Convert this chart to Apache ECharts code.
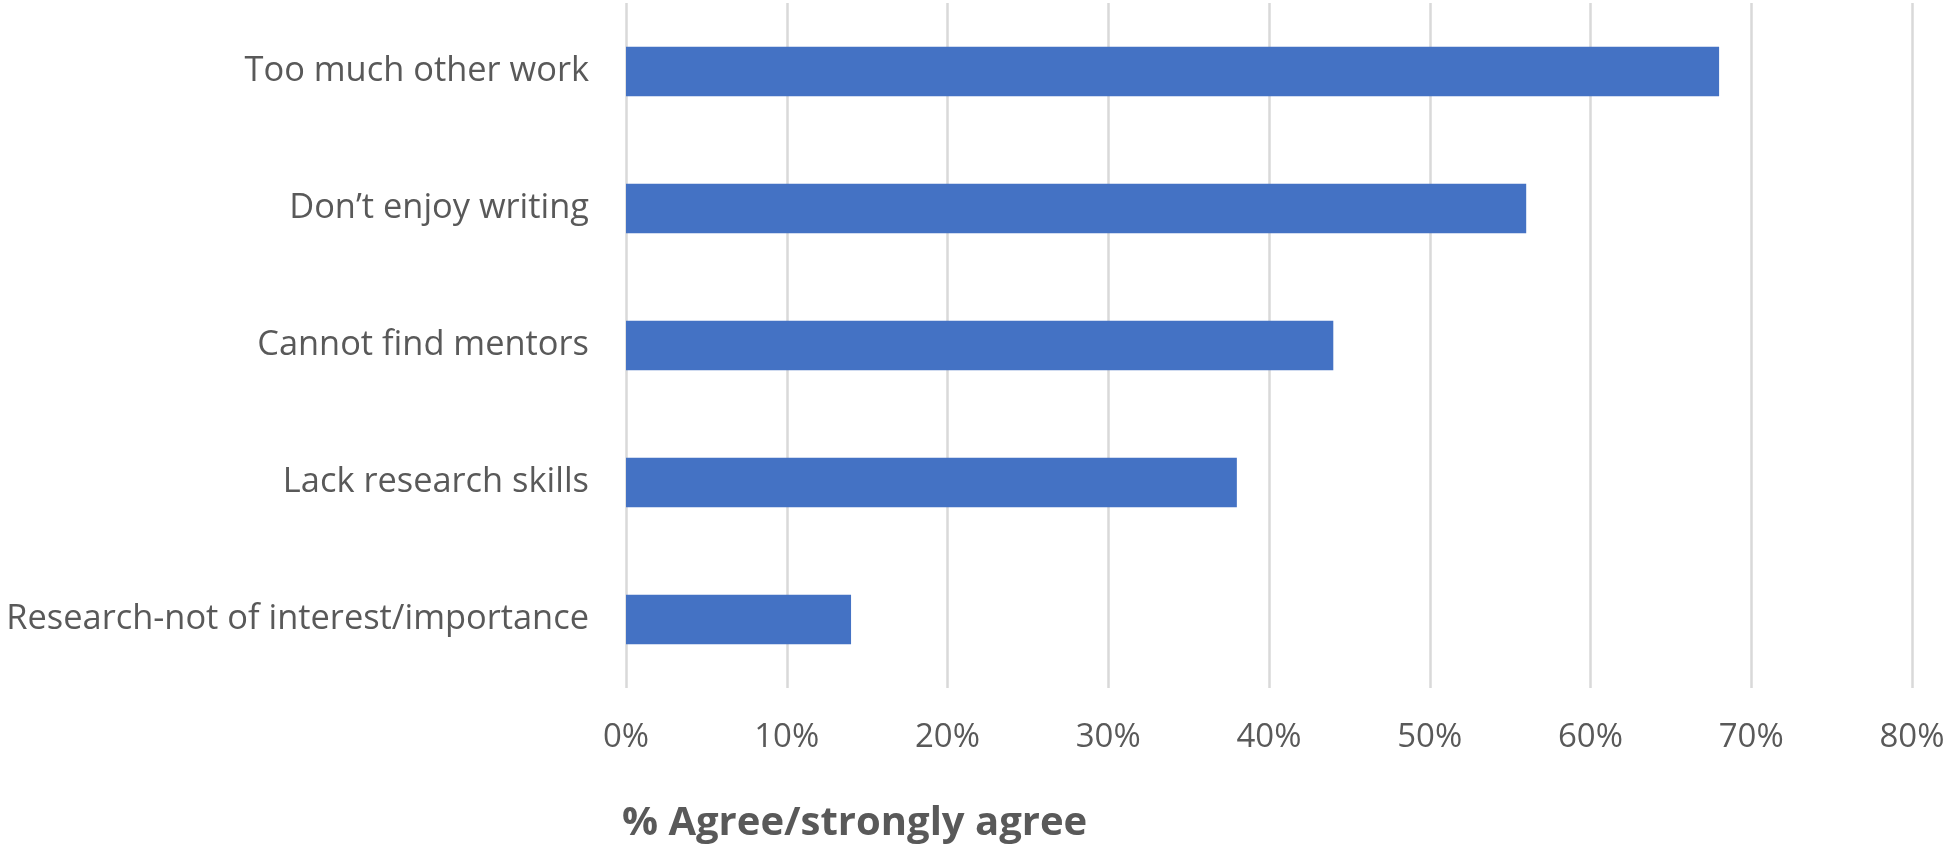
<!DOCTYPE html>
<html>
<head>
<meta charset="utf-8">
<style>
  html, body { margin: 0; padding: 0; background: #fff; }
  #chart { width: 1952px; height: 844px; }
</style>
<script src="https://cdn.jsdelivr.net/npm/echarts@6/dist/echarts.min.js"></script>
</head>
<body>
<div id="chart"></div>
<script>
const categories = ['Too much other work', 'Don\u2019t enjoy writing', 'Cannot find mentors', 'Lack research skills', 'Research-not of interest/importance']
const agreePct = [68, 56, 44, 38, 14]
const xTicks = [0, 10, 20, 30, 40, 50, 60, 70, 80]

const font = '"Open Sans", sans-serif'
const textColor = '#595959'

const chart = echarts.init(document.getElementById('chart'))
chart.setOption({
  backgroundColor: '#fff',
  animation: false,
  title: {
    text: '% Agree/strongly agree',
    left: 617, top: 799,
    textStyle: { fontFamily: font, fontSize: 40, fontWeight: 'bold', color: textColor }
  },
  grid: { left: 626, right: 40, top: 3, bottom: 156, containLabel: false, outerBoundsMode: 'none' },
  xAxis: {
    type: 'value', min: xTicks[0], max: xTicks[xTicks.length - 1], interval: 10,
    axisLine: { show: false }, axisTick: { show: false },
    splitLine: { lineStyle: { color: '#d9d9d9', width: 2.5 } },
    axisLabel: { formatter: '{value}%', margin: 33, fontFamily: font, fontSize: 33, color: textColor }
  },
  yAxis: {
    type: 'category', inverse: true, data: categories,
    axisLine: { show: false }, axisTick: { show: false },
    axisLabel: { margin: 37, fontFamily: font, fontSize: 34.4, color: textColor }
  },
  series: [{
    type: 'bar', data: agreePct, barWidth: '36%',
    itemStyle: { color: '#4472c4' }
  }]
})
</script>
</body>
</html>
